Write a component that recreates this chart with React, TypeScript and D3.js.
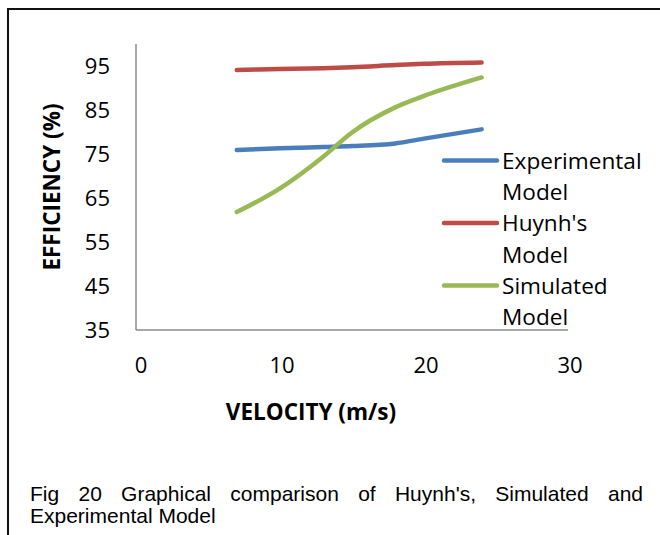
import React, { useEffect, useRef } from 'react';
import * as d3 from 'd3';

// values
const velocity = [7, 10, 13, 15, 18, 20, 24];
const experimental = [75.9, 76.3, 76.6, 76.8, 77.4, 78.5, 80.6];
const huynh = [94.1, 94.3, 94.5, 94.7, 95.2, 95.5, 95.8];
const simulated = [61.8, 67.2, 74.4, 79.9, 85.6, 88.2, 92.4];

const seriesNames = ["Experimental Model", "Huynh's Model", "Simulated Model"];
const seriesColors = ['#4a7ebb', '#be4b48', '#98b954'];
const xTicks = [0, 10, 20, 30];
const yTicks = [35, 45, 55, 65, 75, 85, 95];
const captionLines = ["Fig 20 Graphical comparison of Huynh's, Simulated and", 'Experimental Model'];

const FONT = "'Open Sans', sans-serif";
const CAPTION_FONT = "'Liberation Sans', Arial, sans-serif";

function App() {
    const svgRef = useRef<SVGSVGElement>(null);

    useEffect(() => {
        const svg = d3.select(svgRef.current);
        svg.selectAll('*').remove();

        const x = d3.scaleLinear().domain([0, 30]).range([136, 568]);
        const y = d3.scaleLinear().domain([35, 100]).range([330, 44]);

        // outer frame (only top and left edges are visible)
        svg.append('path')
            .attr('d', 'M8,540 L8,9 L665,9')
            .attr('fill', 'none')
            .attr('stroke', '#111')
            .attr('stroke-width', 2);

        // axes lines, no tick marks
        svg.append('line')
            .attr('x1', x(0)).attr('x2', x(0))
            .attr('y1', y(100)).attr('y2', y(35))
            .attr('stroke', '#8c8c8c').attr('stroke-width', 1.5);
        svg.append('line')
            .attr('x1', x(0)).attr('x2', x(30))
            .attr('y1', y(35)).attr('y2', y(35))
            .attr('stroke', '#8c8c8c').attr('stroke-width', 1.5);

        svg.append('g').selectAll('text')
            .data(yTicks)
            .enter()
            .append('text')
            .attr('x', 110)
            .attr('y', d => y(d))
            .attr('dy', '0.36em')
            .attr('text-anchor', 'end')
            .attr('font-family', FONT)
            .attr('font-size', 22)
            .attr('fill', '#000')
            .text(d => d);

        svg.append('g').selectAll('text')
            .data(xTicks)
            .enter()
            .append('text')
            .attr('x', d => x(d) + (d === 0 ? 5 : 2))
            .attr('y', 365)
            .attr('dy', '0.36em')
            .attr('text-anchor', 'middle')
            .attr('font-family', FONT)
            .attr('font-size', 22)
            .attr('fill', '#000')
            .text(d => d);

        // axis titles
        svg.append('text')
            .attr('transform', 'translate(52,187) rotate(-90)')
            .attr('dy', '0.36em')
            .attr('text-anchor', 'middle')
            .attr('font-family', FONT)
            .attr('font-size', 22.5)
            .attr('font-weight', 'bold')
            .text('EFFICIENCY (%)');

        svg.append('text')
            .attr('x', 311)
            .attr('y', 412)
            .attr('dy', '0.36em')
            .attr('text-anchor', 'middle')
            .attr('font-family', FONT)
            .attr('font-size', 22.5)
            .attr('font-weight', 'bold')
            .text('VELOCITY (m/s)');

        // series lines, smoothed
        const allSeries = [experimental, huynh, simulated];
        const line = d3.line<number>()
            .x((d, i) => x(velocity[i]))
            .y(d => y(d))
            .curve(d3.curveMonotoneX);

        allSeries.forEach((vals, i) => {
            svg.append('path')
                .attr('d', line(vals))
                .attr('fill', 'none')
                .attr('stroke', seriesColors[i])
                .attr('stroke-width', 4.5)
                .attr('stroke-linecap', 'round')
                .attr('stroke-linejoin', 'round');
        });

        // legend, each name wrapped over two lines
        const legend = svg.append('g');
        seriesNames.forEach((name, i) => {
            const cy = 160.5 + i * 62.5;
            legend.append('line')
                .attr('x1', 444).attr('x2', 497)
                .attr('y1', cy).attr('y2', cy)
                .attr('stroke', seriesColors[i])
                .attr('stroke-width', 4.5)
                .attr('stroke-linecap', 'round');
            const words = name.split(' ');
            const t = legend.append('text')
                .attr('font-family', FONT)
                .attr('font-size', 22.6)
                .attr('fill', '#000');
            t.append('tspan').attr('x', 502).attr('y', cy).attr('dy', '0.36em').text(words[0]);
            t.append('tspan').attr('x', 502).attr('y', cy + 31.5).attr('dy', '0.36em').text(words[1]);
        });

        // caption, first line justified
        const left = 30, right = 643;
        captionLines.forEach((txt, li) => {
            const baseY = 501 + li * 22;
            if (li === 0) {
                const words = txt.split(' ');
                const nodes = words.map(w => svg.append('text')
                    .attr('y', baseY)
                    .attr('font-family', CAPTION_FONT)
                    .attr('font-size', 21)
                    .attr('fill', '#000')
                    .text(w));
                const widths = nodes.map(n => (n.node() as SVGTextElement).getComputedTextLength());
                const gap = (right - left - d3.sum(widths)) / (words.length - 1);
                let cx = left;
                nodes.forEach((n, k) => {
                    n.attr('x', cx);
                    cx += widths[k] + gap;
                });
            } else {
                svg.append('text')
                    .attr('x', left)
                    .attr('y', baseY)
                    .attr('font-family', CAPTION_FONT)
                    .attr('font-size', 21)
                    .attr('fill', '#000')
                    .text(txt);
            }
        });
    }, []);

    return (
        <svg ref={svgRef} width={660} height={535}
            style={{ position: 'absolute', left: 0, top: 0, background: '#fff' }} />
    );
}

export default App;
